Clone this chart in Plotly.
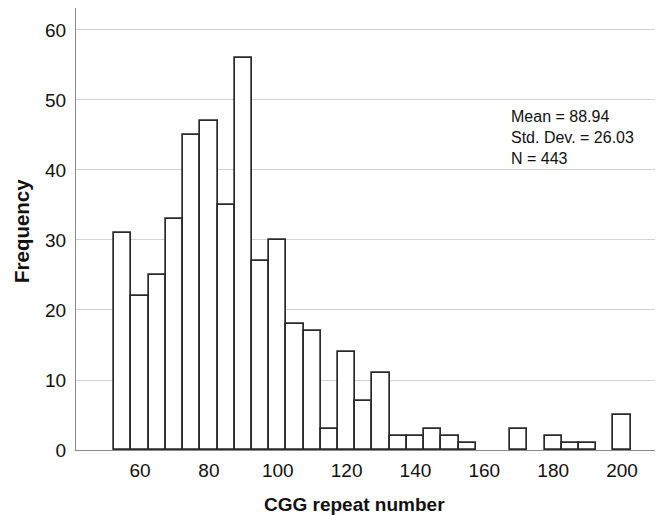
import plotly.graph_objects as go

bin_centers = [55, 60, 65, 70, 75, 80, 85, 90, 95, 100, 105, 110, 115, 120, 125,
               130, 135, 140, 145, 150, 155, 160, 165, 170, 175, 180, 185, 190, 195, 200]
frequencies = [31, 22, 25, 33, 45, 47, 35, 56, 27, 30, 18, 17, 3, 14, 7,
               11, 2, 2, 3, 2, 1, 0, 0, 3, 0, 2, 1, 1, 0, 5]
x_ticks = [60, 80, 100, 120, 140, 160, 180, 200]
y_ticks = [0, 10, 20, 30, 40, 50, 60]
stats_lines = ["Mean = 88.94", "Std. Dev. = 26.03", "N = 443"]

# empty bins are not drawn
xs = [c for c, f in zip(bin_centers, frequencies) if f > 0]
ys = [f for f in frequencies if f > 0]

font_family = "Arial, Liberation Sans, sans-serif"

fig = go.Figure()
fig.add_trace(go.Bar(
    x=xs, y=ys, width=5,
    marker=dict(color="white", line=dict(color="#2a2a2a", width=1.7)),
    showlegend=False, hoverinfo="x+y",
))

# the page body has an 8px default margin, so the figure is 8px smaller
W, H = 655, 507
ml, mt, mr, mb = 68, 0, 0, 65
pw, ph = W - ml - mr, H - mt - mb

fig.update_layout(
    width=W, height=H,
    margin=dict(l=ml, r=mr, t=mt, b=mb),
    paper_bgcolor="white", plot_bgcolor="white",
    font=dict(family=font_family, color="#111", size=19),
    bargap=0,
    xaxis=dict(
        range=[41.4, 211.9], tickvals=x_ticks, ticks="", showgrid=False,
        showline=True, linecolor="#8a8a8a", linewidth=1, zeroline=False,
        tickfont=dict(size=19, color="#111"), ticklabelstandoff=3,
    ),
    yaxis=dict(
        range=[0, 63.14], tickvals=y_ticks, ticks="", showgrid=True,
        gridcolor="#d2d2d2", gridwidth=1, showline=True, linecolor="#8a8a8a",
        linewidth=1, zeroline=False, tickfont=dict(size=19, color="#111"),
        ticklabelstandoff=5,
    ),
)

# stats box (centred on page y ~138; left at page x 509)
fig.add_annotation(
    text="<br>".join(stats_lines), xref="x", yref="y",
    x=60 + (509 - 140) / 3.443, y=(450 - 138) / 7.0,
    xanchor="left", yanchor="middle", showarrow=False, align="left",
    font=dict(size=16, color="#111", family=font_family),
)

fig.add_annotation(
    text="<b>CGG repeat number</b>", xref="paper", yref="paper",
    x=(346 - ml) / pw, y=0, yshift=-54, xanchor="center", yanchor="middle",
    showarrow=False, font=dict(size=19, color="#111", family=font_family),
)
fig.add_annotation(
    text="<b>Frequency</b>", xref="paper", yref="paper",
    x=0, xshift=-55, y=(ph - 223) / ph, xanchor="center", yanchor="middle",
    textangle=-90, showarrow=False,
    font=dict(size=20.5, color="#111", family=font_family),
)

fig.write_html("out.html")
